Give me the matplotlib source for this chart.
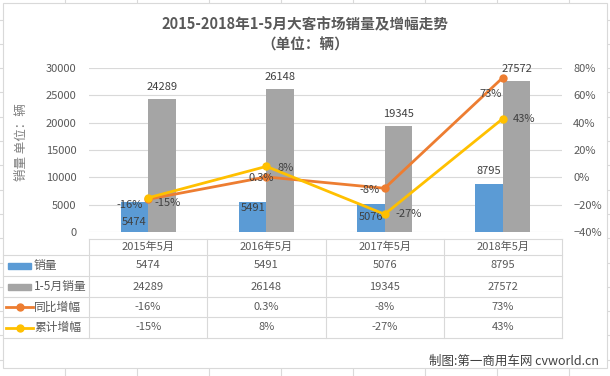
import matplotlib
matplotlib.use('Agg')
import matplotlib.pyplot as plt
from matplotlib.patches import Rectangle
from matplotlib.lines import Line2D
from matplotlib.transforms import blended_transform_factory
from matplotlib.ticker import PercentFormatter

plt.rcParams['font.family'] = ['Noto Sans CJK SC', 'DejaVu Sans']

# data
categories = ['2015年5月', '2016年5月', '2017年5月', '2018年5月']
sales_may = [5474, 5491, 5076, 8795]
sales_jan_may = [24289, 26148, 19345, 27572]
yoy_growth = [-16, 0.3, -8, 73]
cum_growth = [-15, 8, -27, 43]
yoy_text = ['-16%', '0.3%', '-8%', '73%']
cum_text = ['-15%', '8%', '-27%', '43%']
series_names = ['销量', '1-5月销量', '同比增幅', '累计增幅']

# label offsets (points)
blue_lbl_dy = [-14, -4, -9, 9]
yoy_lbl_off = [(-13, -4), (-4, -1), (-11, -1), (-9, -12)]
cum_lbl_off = [(14, -4), (14, -1), (17, 0), (15, 0)]

c_blue, c_gray, c_orange, c_yellow = '#5B9BD5', '#A5A5A5', '#ED7D31', '#FFC000'
txt = '#595959'
grid_c = '#D9D9D9'

W, H = 610, 376
fig = plt.figure(figsize=(W / 100, H / 100), dpi=100)

# background: sheet grid + chart frame, in pixel coords
bg = fig.add_axes([0, 0, 1, 1], zorder=0)
bg.set_xlim(0, W)
bg.set_ylim(H, 0)
bg.axis('off')
for k in range(9):
    bg.axvline(65 + 72 * k, color='#DADADA', lw=0.8)
for k in range(16):
    bg.axhline(19.5 + 24.3 * k, color='#DADADA', lw=0.8)
bg.add_patch(Rectangle((3, 3), 604, 365, fc='white', ec=grid_c, lw=0.8, zorder=2))

bg.text(305, 24, '2015-2018年1-5月大客市场销量及增幅走势', ha='center', va='center',
        fontsize=10.5, fontweight='bold', color=txt, zorder=3)
bg.text(305, 45, '（单位：辆）', ha='center', va='center',
        fontsize=10.5, fontweight='bold', color=txt, zorder=3)
bg.text(22, 142, '销量 单位：辆', rotation=90, ha='center', va='center',
        fontsize=9, color='#7F7F7F', zorder=3)
bg.text(599, 361, '制图:第一商用车网 cvworld.cn', ha='right', va='center',
        fontsize=9, color='#404040', zorder=3)

# main chart
x0, x1, ytop, ybot = 89, 562, 68, 232
ax = fig.add_axes([x0 / W, 1 - ybot / H, (x1 - x0) / W, (ybot - ytop) / H], zorder=2)
ax.patch.set_visible(False)
ax.set_xlim(-0.5, 3.5)
ax.set_ylim(0, 30000)
ax.set_yticks(range(0, 30001, 5000))
ax.set_xticks([])
ax.grid(axis='y', color=grid_c, lw=0.8)
ax.set_axisbelow(True)
for s in ax.spines.values():
    s.set_visible(False)
ax.tick_params(axis='y', length=0, pad=9, labelsize=8, labelcolor=txt)

xs = list(range(len(categories)))
bw = 0.233
ax.bar([x - bw / 2 for x in xs], sales_may, bw, color=c_blue, zorder=2)
ax.bar([x + bw / 2 for x in xs], sales_jan_may, bw, color=c_gray, zorder=2)

for i, x in enumerate(xs):
    ax.annotate(str(sales_jan_may[i]), (x + bw / 2, sales_jan_may[i]), xytext=(0, 9),
                textcoords='offset points', ha='center', va='center', fontsize=8, color='#404040')
    ax.annotate(str(sales_may[i]), (x - bw / 2, sales_may[i]), xytext=(0, blue_lbl_dy[i]),
                textcoords='offset points', ha='center', va='center', fontsize=8, color='#404040')

ax2 = ax.twinx()
ax2.set_ylim(-40, 80)
ax2.set_yticks(range(-40, 81, 20))
ax2.yaxis.set_major_formatter(PercentFormatter(decimals=0))
for s in ax2.spines.values():
    s.set_visible(False)
ax2.tick_params(axis='y', length=0, pad=8, labelsize=8, labelcolor=txt)
ax2.plot(xs, yoy_growth, color=c_orange, lw=2, marker='o', ms=5, zorder=3)
ax2.plot(xs, cum_growth, color=c_yellow, lw=2, marker='o', ms=5, zorder=4)
for i, x in enumerate(xs):
    ax2.annotate(yoy_text[i], (x, yoy_growth[i]), xytext=yoy_lbl_off[i],
                 textcoords='offset points', ha='center', va='center', fontsize=8, color='#404040')
    ax2.annotate(cum_text[i], (x, cum_growth[i]), xytext=cum_lbl_off[i],
                 textcoords='offset points', ha='center', va='center', fontsize=8, color='#404040')

# data table below the plot
rows_y = [239, 255, 276, 297, 317, 338]
col_x = [x0 + (x1 - x0) * k / 4 for k in range(5)]
bg.plot([x0, x1], [rows_y[0]] * 2, color=grid_c, lw=0.8, zorder=3)
for yy in rows_y[1:]:
    bg.plot([3, x1], [yy, yy], color=grid_c, lw=0.8, zorder=3)
for xx in col_x:
    bg.plot([xx, xx], [rows_y[0], rows_y[-1]], color=grid_c, lw=0.8, zorder=3)

tr = blended_transform_factory(ax.transData, bg.transData)
table_rows = [[str(v) for v in sales_may], [str(v) for v in sales_jan_may], yoy_text, cum_text]
for i, x in enumerate(xs):
    ax.text(x, (rows_y[0] + rows_y[1]) / 2, categories[i], transform=tr,
            ha='center', va='center', fontsize=8, color=txt)
    for r, vals in enumerate(table_rows):
        ax.text(x, (rows_y[r + 1] + rows_y[r + 2]) / 2, vals[i], transform=tr,
                ha='center', va='center', fontsize=8, color=txt)

key_colors = [c_blue, c_gray, c_orange, c_yellow]
for r, name in enumerate(series_names):
    yc = (rows_y[r + 1] + rows_y[r + 2]) / 2
    if r < 2:
        bg.add_patch(Rectangle((8, yc - 3), 23, 6, color=key_colors[r], zorder=4))
    else:
        bg.add_line(Line2D([6, 33], [yc, yc], color=key_colors[r], lw=2, zorder=4))
        bg.plot([19.5], [yc], 'o', color=key_colors[r], ms=5, zorder=5)
    bg.text(34, yc, name, ha='left', va='center', fontsize=8.5, color=txt, zorder=5)

fig.savefig('out.png', dpi=100)
